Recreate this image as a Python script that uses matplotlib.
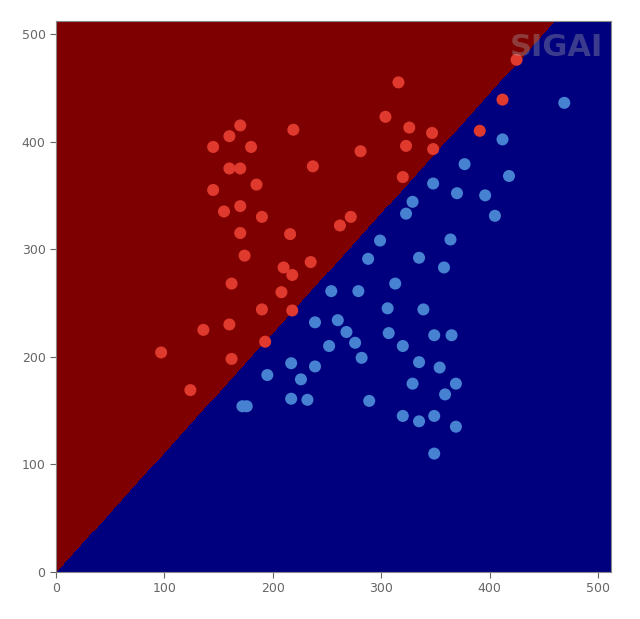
import numpy as np
import matplotlib
matplotlib.use('Agg')
import matplotlib.pyplot as plt
from matplotlib.colors import ListedColormap

# class +1 (red, above the line)
red_x = [97, 124, 136, 160, 162, 162, 190, 193, 208, 218, 210, 218, 235, 174, 170,
         216, 155, 170, 190, 145, 185, 160, 170, 237, 145, 180, 160, 170, 219, 262,
         272, 281, 304, 316, 326, 323, 320, 347, 348, 391, 412, 425]
red_y = [204, 169, 225, 230, 198, 268, 244, 214, 260, 243, 283, 276, 288, 294, 315,
         314, 335, 340, 330, 355, 360, 375, 375, 377, 395, 395, 405, 415, 411, 322,
         330, 391, 423, 455, 413, 396, 367, 408, 393, 410, 439, 476]

# class -1 (blue, below the line)
blue_x = [469, 412, 377, 418, 348, 370, 396, 329, 323, 405, 299, 364, 288, 335, 358,
          313, 254, 279, 306, 339, 239, 260, 268, 307, 349, 365, 252, 276, 320, 282,
          335, 239, 354, 226, 329, 369, 359, 232, 289, 320, 335, 349, 369, 349, 217,
          195, 217, 172, 176]
blue_y = [436, 402, 379, 368, 361, 352, 350, 344, 333, 331, 308, 309, 291, 292, 283,
          268, 261, 261, 245, 244, 232, 234, 223, 222, 220, 220, 210, 213, 210, 199,
          195, 191, 190, 179, 175, 175, 165, 160, 159, 145, 140, 145, 135, 110, 194,
          183, 161, 154, 154]

# separating line y = k * x
k = 1.113

fig = plt.figure(figsize=(6.4, 6.19), dpi=100)
ax = fig.add_axes([0.0875, 0.076, 0.867, 0.890])

xx, yy = np.meshgrid(np.linspace(0, 512, 600), np.linspace(0, 512, 600))
zz = np.where(yy - k * xx > 0, 1, -1)
ax.contourf(xx, yy, zz, levels=[-2, 0, 2], cmap=ListedColormap(['#00007f', '#7f0000']))

ax.scatter(red_x, red_y, s=75, color='#e0392e', edgecolors='none', zorder=3)
ax.scatter(blue_x, blue_y, s=75, color='#4782d2', edgecolors='none', zorder=3)

ax.set_xlim(0, 512)
ax.set_ylim(0, 512)
ax.set_xticks([0, 100, 200, 300, 400, 500])
ax.set_yticks([0, 100, 200, 300, 400, 500])
ax.tick_params(colors='#666666', labelsize=9, length=4)
for s in ax.spines.values():
    s.set_color('#888888')

# watermark
fig.text(0.869, 0.924, 'SIGAI', fontsize=22, fontweight='bold', color='#aaaaaa',
         alpha=0.35, ha='center', va='center', zorder=5)

fig.savefig('out.png', dpi=100)
